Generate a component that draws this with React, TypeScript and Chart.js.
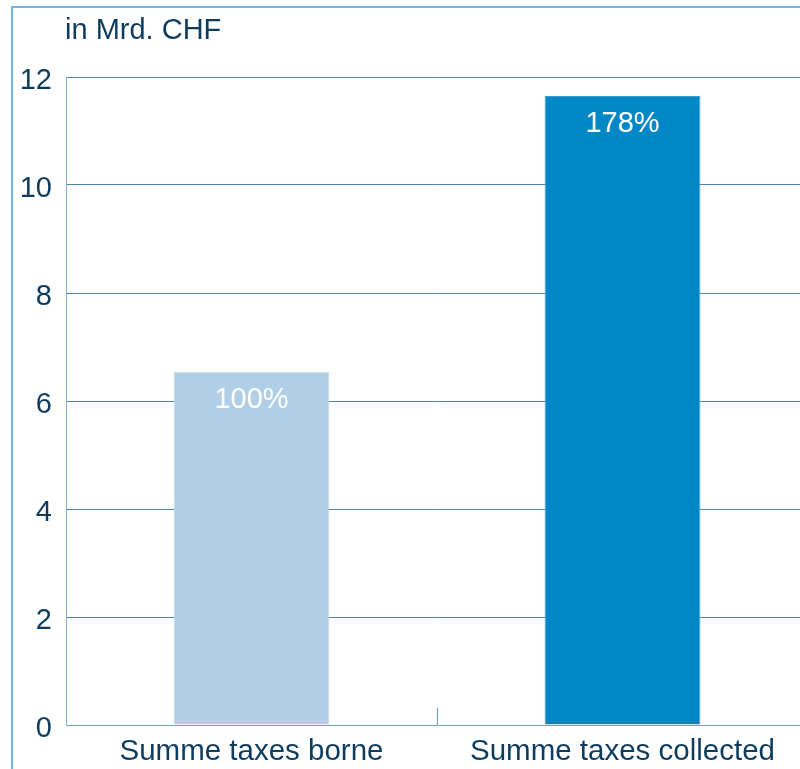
import React, { useEffect, useRef } from "react";
import { Chart, registerables } from "chart.js";

Chart.register(...registerables);

const categories = ["Summe taxes borne", "Summe taxes collected"];
const values = [6.54, 11.65];
const percentLabels = ["100%", "178%"];
const barColors = ["#b0cfe6", "#0088c6"];
const barBorders = ["#c4dcee", "#3aa0d4"];
const unitLabel = "in Mrd. CHF";

const TEXT = "#0e3c5f";
const FONT = "'Liberation Sans', Arial, Helvetica, sans-serif";

const overlay = {
  id: "overlay",
  afterDatasetsDraw(chart: any) {
    const { ctx, chartArea, scales } = chart;
    const x = scales.x;
    ctx.save();
    // unit label
    ctx.fillStyle = TEXT;
    ctx.font = `29px ${FONT}`;
    ctx.textAlign = "left";
    ctx.textBaseline = "middle";
    ctx.fillText(unitLabel, chartArea.left - 1, 31);
    // category divider tick
    const mid = (x.getPixelForValue(0) + x.getPixelForValue(1)) / 2;
    ctx.strokeStyle = "#5f97b6";
    ctx.lineWidth = 1;
    ctx.beginPath();
    ctx.moveTo(Math.round(mid) + 0.5, chartArea.bottom - 17);
    ctx.lineTo(Math.round(mid) + 0.5, chartArea.bottom);
    ctx.stroke();
    // percent labels
    const meta = chart.getDatasetMeta(0);
    ctx.fillStyle = "#ffffff";
    ctx.font = `29px ${FONT}`;
    ctx.textAlign = "center";
    meta.data.forEach((bar: any, i: number) => {
      ctx.fillText(percentLabels[i], bar.x, bar.y + 28);
    });
    ctx.restore();
  },
};

export default function App() {
  const ref = useRef<HTMLCanvasElement>(null);
  useEffect(() => {
    if (!ref.current) return;
    const chart = new Chart(ref.current, {
      type: "bar",
      data: {
        labels: categories,
        datasets: [
          {
            data: values,
            backgroundColor: barColors,
            borderColor: barBorders,
            borderWidth: 1,
            barPercentage: 0.42,
            categoryPercentage: 1,
          },
        ],
      },
      options: {
        responsive: false,
        animation: false,
        layout: { padding: { top: 77, right: 32, left: 0, bottom: 0 } },
        plugins: {
          legend: { display: false },
          tooltip: { enabled: false },
          title: { display: false },
        },
        scales: {
          x: {
            grid: { display: false, drawTicks: false },
            border: { display: true, color: "#6aa6c8", width: 1 },
            ticks: {
              color: TEXT,
              font: { family: FONT, size: 29.5 },
              padding: 9,
              maxRotation: 0,
              autoSkip: false,
            },
            afterFit(scale: any) {
              scale.height = 44;
            },
          },
          y: {
            min: 0,
            max: 12,
            ticks: {
              stepSize: 2,
              color: TEXT,
              font: { family: FONT, size: 29 },
              padding: 14,
              labelOffset: 4,
            },
            grid: {
              drawTicks: false,
              color: (c: any) => (c.tick && c.tick.value === 0 ? "rgba(0,0,0,0)" : "#4a86a6"),
              lineWidth: 1,
            },
            border: { display: true, color: "#7fb1cc", width: 1 },
            afterFit(scale: any) {
              scale.width = 66;
            },
          },
        },
      },
      plugins: [overlay],
    });
    return () => chart.destroy();
  }, []);

  return (
    <div
      style={{
        position: "fixed",
        left: 0,
        top: 0,
        width: 800,
        height: 769,
        overflow: "hidden",
        background: "#ffffff",
      }}
    >
      <div
        style={{
          position: "absolute",
          left: 11,
          top: 6,
          width: 900,
          height: 900,
          border: "2px solid #6cb5e0",
        }}
      />
      <canvas
        ref={ref}
        width={840}
        height={769}
        style={{ position: "absolute", left: 0, top: 0, width: 840, height: 769 }}
      />
    </div>
  );
}
